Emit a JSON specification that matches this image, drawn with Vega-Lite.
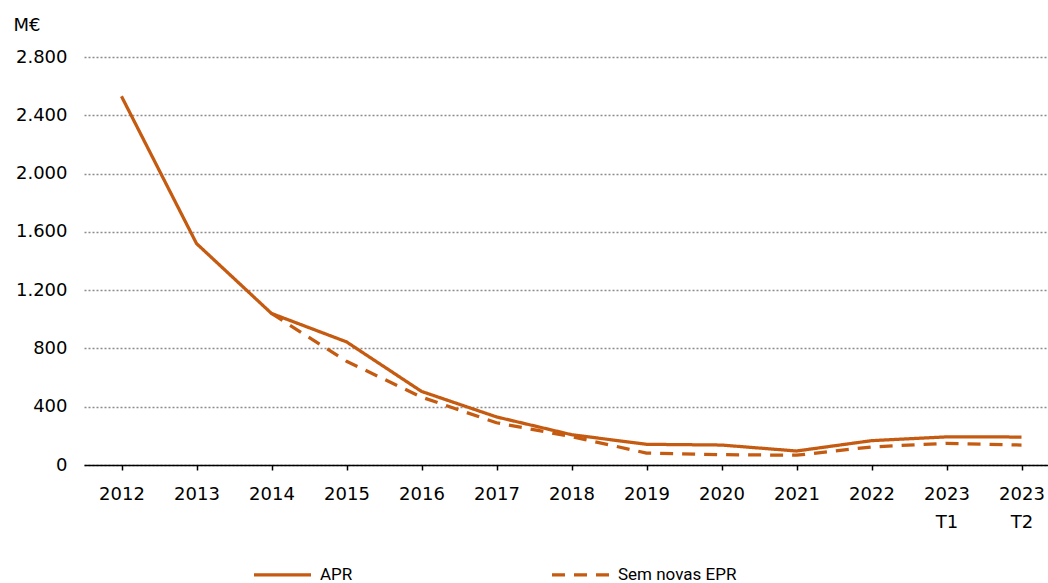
{
  "$schema": "https://vega.github.io/schema/vega-lite/v6.json",
  "width": 975,
  "height": 408,
  "autosize": "none",
  "padding": {"left": 84, "top": 57, "right": 0, "bottom": 118},
  "background": "white",
  "config": {"view": {"stroke": null}},
  "data": {
    "values": [
      {"periodo": "2012", "serie": "APR", "valor": 2530},
      {"periodo": "2013", "serie": "APR", "valor": 1520},
      {"periodo": "2014", "serie": "APR", "valor": 1040},
      {"periodo": "2015", "serie": "APR", "valor": 845},
      {"periodo": "2016", "serie": "APR", "valor": 505},
      {"periodo": "2017", "serie": "APR", "valor": 330},
      {"periodo": "2018", "serie": "APR", "valor": 208},
      {"periodo": "2019", "serie": "APR", "valor": 142},
      {"periodo": "2020", "serie": "APR", "valor": 137},
      {"periodo": "2021", "serie": "APR", "valor": 96},
      {"periodo": "2022", "serie": "APR", "valor": 167},
      {"periodo": "2023 T1", "serie": "APR", "valor": 193},
      {"periodo": "2023 T2", "serie": "APR", "valor": 192},
      {"periodo": "2014", "serie": "Sem novas EPR", "valor": 1040},
      {"periodo": "2015", "serie": "Sem novas EPR", "valor": 712},
      {"periodo": "2016", "serie": "Sem novas EPR", "valor": 466},
      {"periodo": "2017", "serie": "Sem novas EPR", "valor": 290},
      {"periodo": "2018", "serie": "Sem novas EPR", "valor": 195},
      {"periodo": "2019", "serie": "Sem novas EPR", "valor": 82},
      {"periodo": "2020", "serie": "Sem novas EPR", "valor": 71},
      {"periodo": "2021", "serie": "Sem novas EPR", "valor": 67},
      {"periodo": "2022", "serie": "Sem novas EPR", "valor": 124},
      {"periodo": "2023 T1", "serie": "Sem novas EPR", "valor": 149},
      {"periodo": "2023 T2", "serie": "Sem novas EPR", "valor": 137}
    ]
  },
  "mark": {"type": "line", "strokeWidth": 3.25, "strokeJoin": "round"},
  "encoding": {
    "x": {
      "field": "periodo",
      "type": "ordinal",
      "scale": {
        "type": "point",
        "domain": ["2012","2013","2014","2015","2016","2017","2018","2019","2020","2021","2022","2023 T1","2023 T2"],
        "padding": 0.5
      },
      "axis": {
        "title": null,
        "labelAngle": 0,
        "labelExpr": "split(datum.label, ' ')",
        "labelFont": "DejaVu Sans",
        "labelFontSize": 18,
        "labelColor": "#000000",
        "labelLineHeight": 28,
        "labelPadding": 15,
        "tickSize": 5,
        "tickColor": "#000000",
        "tickWidth": 1.5,
        "domainColor": "#000000",
        "domainWidth": 1.5,
        "grid": false
      }
    },
    "y": {
      "field": "valor",
      "type": "quantitative",
      "scale": {"domain": [0, 2800], "nice": false},
      "axis": {
        "values": [0, 400, 800, 1200, 1600, 2000, 2400, 2800],
        "labelExpr": "replace(format(datum.value, ','), ',', '.')",
        "labelFont": "DejaVu Sans",
        "labelFontSize": 18,
        "labelColor": "#000000",
        "labelPadding": 17,
        "ticks": false,
        "domain": false,
        "grid": true,
        "gridColor": "#8c8c8c",
        "gridDash": [2, 2],
        "gridWidth": 1.5,
        "title": "M€",
        "titleAngle": 0,
        "titleX": -71,
        "titleY": -27,
        "titleAlign": "left",
        "titleBaseline": "alphabetic",
        "titleFont": "DejaVu Sans",
        "titleFontSize": 18,
        "titleFontWeight": "normal",
        "titleColor": "#000000"
      }
    },
    "color": {
      "field": "serie",
      "type": "nominal",
      "scale": {"domain": ["APR", "Sem novas EPR"], "range": ["#C55A11", "#C55A11"]},
      "legend": {
        "title": null,
        "orient": "none",
        "legendX": 168,
        "legendY": 487,
        "direction": "horizontal",
        "padding": 0,
        "symbolType": "stroke",
        "symbolSize": 3249,
        "symbolStrokeWidth": 3.25,
        "labelFont": "Roboto",
        "labelFontSize": 17,
        "labelColor": "#000000",
        "labelOffset": 7,
        "columnPadding": 192
      }
    },
    "strokeDash": {
      "field": "serie",
      "type": "nominal",
      "scale": {"domain": ["APR", "Sem novas EPR"], "range": [[1, 0], [13, 9]]},
      "legend": {
        "title": null,
        "orient": "none",
        "legendX": 168,
        "legendY": 487,
        "direction": "horizontal",
        "padding": 0,
        "symbolType": "stroke",
        "symbolSize": 3249,
        "symbolStrokeWidth": 3.25,
        "labelFont": "Roboto",
        "labelFontSize": 17,
        "labelColor": "#000000",
        "labelOffset": 7,
        "columnPadding": 192
      }
    }
  }
}
